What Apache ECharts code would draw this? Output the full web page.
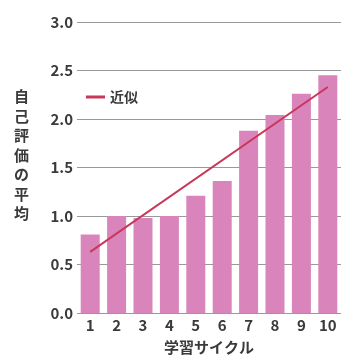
<!DOCTYPE html>
<html><head><meta charset="utf-8">
<script src="https://cdn.jsdelivr.net/npm/echarts@6/dist/echarts.min.js"></script>
<style>html,body{margin:0;padding:0;background:#fff}#c{width:342px;height:356px}</style>
</head><body><div id="c"></div>
<script>
const categories = ['1','2','3','4','5','6','7','8','9','10'];
const scores = [0.81, 1.0, 0.98, 1.0, 1.21, 1.36, 1.88, 2.04, 2.26, 2.45];
const trendPoints = [['1', 0.63], ['10', 2.33]];
const yTicks = [0, 0.5, 1.0, 1.5, 2.0, 2.5, 3.0];
const yName = '自己評価の平均';
const xName = '学習サイクル';
const legendName = '近似';

const font = '"Noto Sans CJK JP", "Noto Sans", sans-serif';
const txt = '#3a3a3a';
const chart = echarts.init(document.getElementById('c'), null, {renderer: 'canvas'});
chart.setOption({
  animation: false,
  textStyle: {fontFamily: font},
  grid: {left: 77, right: 1, top: 22, bottom: 43, outerBoundsMode: 'none', containLabel: false},
  legend: {
    data: [{name: legendName, icon: 'rect'}],
    left: 81, top: 85, itemWidth: 19, itemHeight: 3, itemGap: 6,
    textStyle: {fontFamily: font, fontSize: 14, color: txt, fontWeight: 'bold'}
  },
  xAxis: {
    type: 'category', data: categories,
    axisLine: {show: false}, axisTick: {show: false},
    axisLabel: {fontFamily: font, fontSize: 15, color: txt, margin: 5, fontWeight: 'bold'},
    name: xName, nameLocation: 'middle', nameGap: 27,
    nameTextStyle: {fontFamily: font, fontSize: 15, color: txt, fontWeight: 'bold'}
  },
  yAxis: {
    type: 'value', min: 0, max: 3, interval: 0.5,
    axisLine: {show: false}, axisTick: {show: false},
    axisLabel: {fontFamily: font, fontSize: 15, color: txt, margin: 4, fontWeight: 'bold',
      formatter: v => yTicks.includes(v) ? v.toFixed(1) : ''},
    splitLine: {lineStyle: {color: '#999', width: 1}}
  },
  graphic: [{
    type: 'text', left: 14, top: 87,
    style: {text: yName.split('').join('\n'), fontFamily: font, fontSize: 15,
      lineHeight: 19.5, fill: txt, fontWeight: 'bold'}
  }],
  series: [{
    type: 'bar', data: scores, barWidth: '72%',
    itemStyle: {color: '#d985bb'}
  }, {
    name: legendName, type: 'line', data: trendPoints, symbol: 'none',
    lineStyle: {color: '#c8375a', width: 2}, itemStyle: {color: '#c8375a'}
  }]
});
</script></body></html>
